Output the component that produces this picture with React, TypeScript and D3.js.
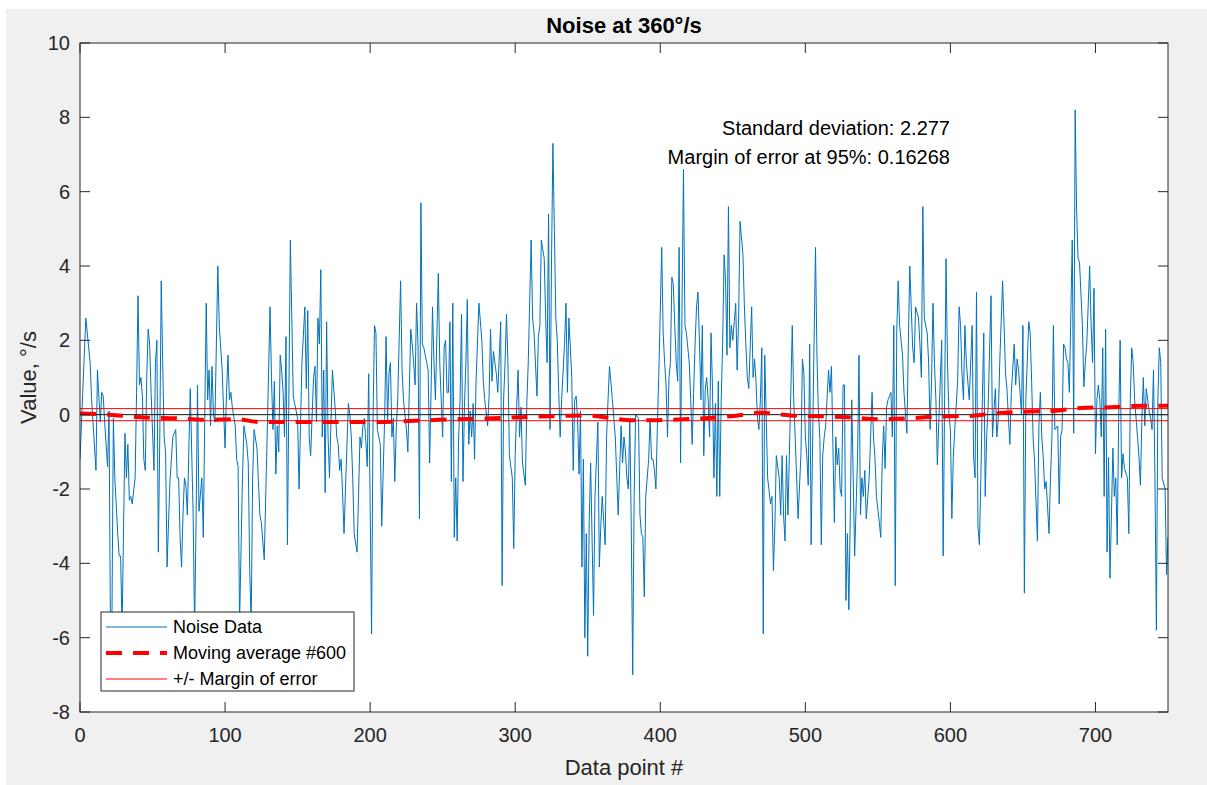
import React from "react";
import * as d3 from "d3";

// ---- data ----
type P = [number, number];

const noiseA: P[] = [[0,-1.2],[4,2.6],[7,1.4],[8,0.4],[11,-1.5],[12,1.2],[14,-0.2],[15,0.6],[16,0.5],[17,-0.2],[19,-1.4],[20,0.1],[21,-5.8],[22,-5.6],[23,-0.1],[24,-1.7],[26,-3.2],[27,-3.8],[28,-3.8],[29,-5.8],[31,-0.5],[32,-1.7],[33,-0.8],[34,-2.3],[35,-2.2],[36,-2.4],[38,-1.7],[39,0.6],[40,3.2],[41,0.8],[42,1.0],[43,0.5],[44,-1.2],[45,-1.5],[46,1.0],[47,2.3],[48,1.9],[49,0.6],[51,-1.5],[52,1.4],[53,2.0],[54,-3.7],[55,-0.6],[56,3.6],[57,1.4],[58,-0.6],[59,-1.0],[60,-4.1],[62,-1.8],[64,-0.6],[66,-0.4],[67,-1.7],[68,-1.7],[69,-3.3],[70,-4.1],[71,-2.7],[72,-1.7],[73,-1.9],[74,-2.7],[76,0.7],[78,-2.7],[79,-5.8],[80,-2.9],[81,0.8],[82,-2.6],[84,-1.7],[85,-3.3],[86,-0.1],[87,3.0],[88,0.4],[89,1.2],[90,-0.3],[91,1.3],[92,0.0],[93,-0.2],[95,4.0],[96,2.4],[98,1.2],[99,0.1],[100,-0.9],[101,0.6],[102,1.6],[103,0.4],[104,0.6],[105,0.2],[107,-0.3],[108,-1.2],[109,-1.4],[110,-5.6],[112,-1.7],[113,-0.3],[115,-0.8],[116,-1.3],[117,-4.2],[118,-5.6],[119,-1.7],[120,-0.4],[122,-0.9]];

const noiseB: P[] = [[123,-1.8],[124,-2.7],[125,-2.9],[127,-3.9],[129,-0.6],[131,2.9],[132,1.0],[133,-0.4],[134,0.9],[135,-1.6],[136,-0.3],[137,-1.0],[138,1.6],[139,1.2],[140,0.6],[141,-0.6],[142,2.1],[143,-3.5],[145,4.7],[146,2.6],[147,0.5],[148,0.3],[150,-0.1],[151,-2.0],[152,-0.3],[153,1.4],[155,2.9],[156,0.7],[157,2.8],[158,-0.6],[159,-1.1],[161,1.0],[162,1.3],[163,-0.2],[164,2.6],[165,1.9],[166,3.9],[167,-0.6],[168,1.2],[169,-2.1],[170,2.5],[171,-0.6],[172,-1.7],[173,-0.2],[174,1.2],[176,0.1],[177,-0.6],[178,-0.8],[179,-1.5],[180,-1.2],[181,-2.1],[182,-3.2],[183,-2.0],[185,0.3],[186,0.0],[187,-0.6],[188,-1.7],[189,-3.2],[191,-3.7],[192,-2.2],[193,-0.6],[194,-0.9],[195,-0.3],[196,-0.1],[197,-0.7],[198,-1.4],[199,1.1],[201,-5.9],[202,-0.1],[203,2.4],[204,2.2],[205,-0.4],[207,-0.8],[208,-3.0],[210,-0.1],[211,2.1],[212,-0.2],[213,1.1],[214,1.4],[215,-0.6],[216,-0.1],[217,-1.8],[218,-0.4],[219,0.4],[221,3.6],[222,1.2],[223,0.4],[225,-0.4],[226,-1.0],[228,2.3],[229,1.9],[230,1.4],[231,0.8],[232,3.0],[233,1.9],[234,-2.8],[235,5.7],[236,1.9],[237,1.8],[238,1.6],[240,1.2],[241,-1.3],[242,0.6],[243,2.9],[244,1.4],[245,0.4]];

const noiseC: P[] = [[247,3.8],[248,1.4],[250,-0.6],[251,1.8],[252,2.0],[253,0.6],[254,0.6],[255,2.5],[256,-1.8],[257,3.0],[258,-3.3],[259,-1.7],[260,-3.4],[261,-0.6],[262,0.4],[263,2.7],[264,-1.8],[265,0.2],[266,1.4],[267,3.1],[268,-0.8],[269,0.1],[270,-0.6],[271,0.3],[272,-1.2],[273,0.9],[275,3.0],[277,2.0],[278,0.9],[279,0.4],[281,-0.3],[282,0.5],[283,2.3],[284,0.9],[285,1.7],[286,1.4],[287,1.1],[288,0.6],[290,2.5],[291,-4.6],[292,0.4],[293,1.4],[294,2.7],[295,1.4],[296,-1.1],[297,-1.4],[298,-1.7],[299,-3.6],[300,-1.1],[301,0.2],[302,1.2],[303,-0.6],[304,0.2],[305,-1.3],[307,-1.9],[308,0.3],[309,1.4],[311,4.7],[312,2.6],[313,2.2],[315,0.5],[316,2.1],[317,2.4],[318,4.7],[320,4.2],[321,2.6],[322,1.4],[323,5.4],[324,-0.4],[325,4.0],[326,7.3],[327,5.0],[328,2.6],[329,2.0],[330,0.6],[331,-0.6],[332,0.4],[334,1.9],[335,3.0],[336,0.6],[337,2.6],[339,1.0],[340,-1.5],[341,0.4],[342,0.5],[343,-0.1],[344,-1.6],[345,0.1],[346,-4.1],[347,-1.2],[348,-6.0],[349,-3.2],[350,-6.5],[351,-2.9],[352,-1.3],[354,-5.4],[355,-2.2],[357,-0.2],[358,-4.1],[359,-3.0],[360,-2.2],[362,-3.5],[363,-0.6],[364,0.4],[365,1.3],[367,0.4],[369,-0.6],[371,-2.7]];

const noiseD: P[] = [[373,-0.3],[374,-1.3],[375,-0.6],[376,-1.0],[377,-1.7],[378,-2.0],[379,-0.1],[380,-3.0],[381,-7.0],[382,-2.2],[383,0.0],[385,-0.1],[386,-2.7],[387,-3.2],[388,-3.3],[389,-4.9],[390,-2.2],[392,-1.2],[393,-0.1],[394,-1.2],[395,-1.2],[396,-1.5],[397,-2.0],[398,-0.3],[399,1.1],[401,4.5],[402,2.2],[403,1.4],[404,0.8],[405,-0.6],[406,1.0],[407,1.4],[408,3.7],[409,3.5],[410,2.4],[411,1.4],[412,0.9],[413,4.5],[414,-1.3],[415,2.9],[416,6.6],[417,2.4],[418,2.2],[420,1.4],[421,0.4],[422,-0.8],[423,0.6],[424,1.9],[425,2.9],[426,3.3],[427,2.0],[428,0.4],[429,2.4],[430,-1.1],[431,0.7],[432,1.0],[433,0.4],[434,-0.6],[435,2.2],[436,0.7],[437,-1.7],[438,0.3],[439,-2.2],[440,0.9],[441,-2.2],[442,0.4],[443,1.9],[444,4.3],[445,3.6],[446,1.6],[447,5.6],[448,1.8],[449,2.4],[450,2.0],[451,2.5],[452,3.0],[453,1.2],[454,2.6],[455,5.2],[457,4.3],[458,2.9],[459,1.9],[460,1.0],[461,0.7],[463,2.9],[464,1.0],[465,1.5],[466,0.9],[467,-0.1],[468,-0.4],[469,0.4],[470,1.8],[471,-5.9],[472,1.6],[473,0.0],[474,-1.7],[476,-2.4],[477,-2.2],[478,-4.2],[479,-3.0],[480,-1.1],[482,-1.7],[483,-2.7],[484,-1.1],[485,-2.7],[486,-3.4],[487,-1.1],[488,-2.7],[490,0.6],[491,2.4],[492,0.4],[493,-0.6],[494,-1.7],[495,-2.8]];

const noiseE: P[] = [[497,-1.05],[498,1.5],[499,1.1],[500,-0.6],[501,-1.1],[502,-1.9],[503,1.9],[504,-3.5],[506,1.9],[507,4.5],[508,1.6],[509,0.1],[510,-0.6],[511,-3.5],[512,-1.1],[513,-0.6],[514,-0.3],[516,1.2],[517,0.6],[518,1.3],[519,-0.8],[520,-2.9],[521,-0.6],[522,-1.35],[523,-0.9],[524,-2.0],[525,-2.2],[526,0.8],[527,0.8],[528,-5.0],[529,-3.2],[530,-5.25],[531,-2.7],[532,0.4],[533,-1.7],[534,-3.8],[536,-1.15],[537,1.6],[538,-2.7],[539,-1.7],[540,-2.2],[541,-1.5],[542,-2.8],[544,-1.7],[545,-0.6],[546,0.6],[547,-0.6],[548,-1.15],[549,-2.2],[551,-2.9],[552,-3.3],[553,-1.25],[554,-0.3],[555,-1.45],[556,0.2],[557,0.4],[559,0.6],[560,-0.6],[561,2.4],[562,-4.6],[563,2.2],[564,3.6],[565,2.4],[566,2.0],[567,1.6],[568,0.6],[570,-0.5],[571,1.9],[572,4.0],[573,2.9],[574,1.8],[575,1.4],[576,2.9],[578,2.6],[579,1.9],[580,1.0],[581,5.6],[582,2.6],[584,2.2],[585,1.4],[586,-0.4],[587,0.9],[588,3.0],[589,1.4],[590,0.4],[591,-1.35],[593,0.9],[594,2.0],[595,-3.8],[596,0.4],[597,4.2],[598,1.4],[599,0.0],[600,-0.4],[601,-2.8],[602,-1.15],[603,-0.4],[605,0.9],[606,2.9],[607,2.4],[608,1.1],[609,0.4],[610,2.4],[611,1.4],[613,0.4],[614,1.4],[615,2.4],[616,-1.15]];

const noiseF: P[] = [[617,-1.7],[618,3.3],[619,-3.0],[620,-3.5],[621,-1.7],[622,0.4],[623,2.2],[624,-2.2],[625,-0.6],[626,0.2],[628,3.2],[629,-0.6],[630,0.1],[631,0.7],[632,-0.6],[633,-0.1],[634,1.4],[636,3.6],[637,2.4],[638,1.1],[639,0.7],[640,-0.1],[641,-0.8],[642,0.6],[644,1.9],[645,0.8],[646,1.5],[647,1.2],[648,0.6],[649,0.0],[650,2.4],[651,-4.8],[652,0.4],[654,2.5],[655,2.2],[656,0.9],[657,-0.6],[658,-1.25],[660,-3.4],[661,-0.3],[662,0.6],[663,-0.6],[664,-1.15],[665,-2.0],[666,-1.8],[668,-3.2],[669,-1.7],[670,-0.6],[671,2.4],[672,-0.4],[674,-0.3],[675,-2.4],[676,-0.6],[677,-0.4],[678,1.9],[679,1.8],[680,1.5],[681,1.4],[682,0.6],[684,4.7],[685,-0.5],[686,8.2],[687,5.5],[688,4.2],[689,4.1],[691,2.4],[692,0.75],[693,1.4],[694,1.9],[695,2.95],[696,4.0],[697,2.4],[698,1.4],[699,3.4],[700,-1.05],[701,0.4],[702,0.8],[703,0.4],[704,-0.6],[705,1.8],[706,-2.2],[707,2.3],[708,-3.7],[709,-1.15],[710,-4.4],[711,-2.7],[712,-0.9],[713,-2.2],[714,-1.7],[715,-3.5],[716,-0.1],[717,2.0],[718,-1.7],[719,-1.05],[720,-1.45],[722,-1.7],[723,-3.2],[724,0.4],[725,1.8],[726,1.4],[727,0.4],[729,-0.6],[730,-1.15],[731,-1.9],[732,-0.1],[733,1.0],[734,-0.3],[735,0.7],[737,0.1],[738,-0.1],[739,-0.4],[740,1.2],[741,-1.7],[742,-5.8],[743,0.4],[744,1.8],[745,1.4],[746,-1.7],[748,-2.0],[749,-4.3],[750,-3.3]];

const maIdx = [0, 20, 42, 67, 86, 107, 125, 160, 200, 247, 280, 327, 348, 368, 380, 394, 405, 428, 449, 470, 490, 509, 530, 550, 571, 592, 610, 630, 651, 671, 690, 711, 732, 750];
const maVal = [0.03, 0.0, -0.07, -0.1, -0.14, -0.12, -0.2, -0.2, -0.2, -0.14, -0.1, -0.04, -0.02, -0.1, -0.15, -0.15, -0.14, -0.1, -0.04, 0.05, -0.02, -0.04, -0.07, -0.12, -0.1, -0.05, -0.04, 0.03, 0.08, 0.1, 0.18, 0.2, 0.24, 0.24];

const marginOfError = 0.16268;
const stdDev = 2.277;
const xTicks = [0, 100, 200, 300, 400, 500, 600, 700];
const yTicks = [-8, -6, -4, -2, 0, 2, 4, 6, 8, 10];
const legendLabels = ["Noise Data", "Moving average #600", "+/- Margin of error"];

const FONT = "'Liberation Sans', Arial, Helvetica, sans-serif";
const AX = "#262626";

export default function App() {
  const W = 1207, H = 785;
  const L = 80, R = 1168, T = 43, B = 712;
  const x = d3.scaleLinear().domain([0, 750]).range([L, R]);
  const y = d3.scaleLinear().domain([-8, 10]).range([B, T]);
  const noise = [...noiseA, ...noiseB, ...noiseC, ...noiseD, ...noiseE, ...noiseF];
  const line = d3.line<P>().x(d => x(d[0])).y(d => y(d[1]));
  const ma: P[] = maIdx.map((v, i) => [v, maVal[i]]);
  const maLine = d3.line<P>().x(d => x(d[0])).y(d => y(d[1])).curve(d3.curveMonotoneX);

  const legX = 101, legY = 612, legW = 253, legH = 79;
  const rows = [627, 653, 679];

  return (
    <svg width={W} height={H} style={{ position: "absolute", left: 0, top: 0, background: "#fff" }} fontFamily={FONT}>
      <rect x={6} y={9} width={W - 6} height={H - 9} fill="#f0f0f0" />
      <rect x={L} y={T} width={R - L} height={B - T} fill="#fff" />
      <defs>
        <clipPath id="plot"><rect x={L} y={T} width={R - L} height={B - T} /></clipPath>
      </defs>
      <g clipPath="url(#plot)">
        <path d={line(noise) || ""} fill="none" stroke="#0072bd" strokeWidth={1} strokeLinejoin="round" />
        <line x1={L} x2={R} y1={y(0)} y2={y(0)} stroke="#111" strokeWidth={1} />
        <line x1={L} x2={R} y1={y(marginOfError)} y2={y(marginOfError)} stroke="#ff0000" strokeWidth={1} />
        <line x1={L} x2={R} y1={y(-marginOfError)} y2={y(-marginOfError)} stroke="#ff0000" strokeWidth={1} />
        <path d={maLine(ma) || ""} fill="none" stroke="#ff0000" strokeWidth={4} strokeDasharray="16 11" />
      </g>
      {/* axes box */}
      <rect x={L} y={T} width={R - L} height={B - T} fill="none" stroke={AX} strokeWidth={1} />
      {xTicks.map(t => (
        <g key={"x" + t}>
          <line x1={x(t)} x2={x(t)} y1={B} y2={B - 10} stroke={AX} />
          <line x1={x(t)} x2={x(t)} y1={T} y2={T + 10} stroke={AX} />
          <text x={x(t)} y={742} textAnchor="middle" fontSize={20} fill={AX}>{t}</text>
        </g>
      ))}
      {yTicks.map(t => (
        <g key={"y" + t}>
          <line x1={L} x2={L + 10} y1={y(t)} y2={y(t)} stroke={AX} />
          <line x1={R} x2={R - 10} y1={y(t)} y2={y(t)} stroke={AX} />
          <text x={70} y={y(t) + 7} textAnchor="end" fontSize={20} fill={AX}>{t}</text>
        </g>
      ))}
      <text x={(L + R) / 2} y={33} textAnchor="middle" fontSize={22} fontWeight="bold" fill="#000">Noise at 360°/s</text>
      <text x={(L + R) / 2} y={775} textAnchor="middle" fontSize={22} fill={AX}>Data point #</text>
      <text transform={`translate(36,${(T + B) / 2}) rotate(-90)`} textAnchor="middle" fontSize={22} fill={AX}>Value, °/s</text>
      <text x={950} y={135} textAnchor="end" fontSize={20} fill="#000">{`Standard deviation: ${stdDev}`}</text>
      <text x={950} y={164} textAnchor="end" fontSize={20} fill="#000">{`Margin of error at 95%: ${marginOfError}`}</text>
      {/* legend */}
      <rect x={legX} y={legY} width={legW} height={legH} fill="#fff" stroke={AX} strokeWidth={1} />
      <line x1={106} x2={167} y1={rows[0]} y2={rows[0]} stroke="#0072bd" strokeWidth={1} />
      <line x1={106} x2={167} y1={rows[1]} y2={rows[1]} stroke="#ff0000" strokeWidth={4} strokeDasharray="16 11" />
      <line x1={106} x2={167} y1={rows[2]} y2={rows[2]} stroke="#ff0000" strokeWidth={1} />
      {legendLabels.map((lab, i) => (
        <text key={lab} x={173} y={rows[i] + 6} fontSize={18} fill="#000">{lab}</text>
      ))}
    </svg>
  );
}
